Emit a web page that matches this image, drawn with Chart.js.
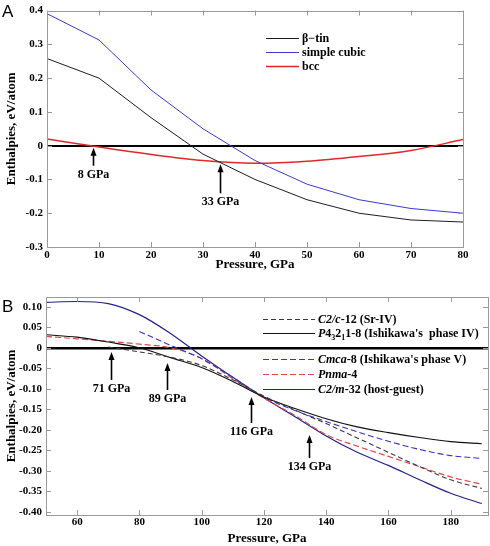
<!DOCTYPE html>
<html>
<head>
<meta charset="utf-8">
<script src="https://cdn.jsdelivr.net/npm/chart.js@4.4.0/dist/chart.umd.min.js"></script>
<style>
  body { margin: 0; background: #fff; width: 490px; height: 546px; position: relative; overflow: hidden; }
  canvas { position: absolute; left: 0; }
  #chartA { top: 0; }
  #chartB { top: 280px; }
  .panel { position: absolute; font: 17px "Liberation Sans", Arial, sans-serif; color: #000; }
  .row { position: absolute; display: flex; align-items: center; height: 16px; white-space: nowrap;
         font: bold 12px "Liberation Serif", "Times New Roman", serif; color: #000; }
  .row svg { display: block; }
  .row span { margin-left: 3px; }
  sub { font-size: 8px; vertical-align: -3px; line-height: 0; }
</style>
</head>
<body>
<canvas id="chartA" width="490" height="272"></canvas>
<canvas id="chartB" width="490" height="266"></canvas>
<div class="panel" style="left:2px;top:2px">A</div>
<div class="panel" style="left:2px;top:297px">B</div>
<script>
// panel A : enthalpies vs pressure (eV/atom, GPa)
const pressA = [0, 10, 20, 30, 40, 50, 60, 70, 80];
const betaTin = [0.258, 0.2, 0.083, -0.025, -0.1, -0.16, -0.2, -0.22, -0.226];
const simpleCubic = [0.391, 0.313, 0.165, 0.05, -0.044, -0.114, -0.16, -0.186, -0.2];
const bcc = [0.02, -0.004, -0.026, -0.044, -0.052, -0.046, -0.032, -0.014, 0.018];
const xTicksA = [0, 10, 20, 30, 40, 50, 60, 70, 80];
const yTicksA = [-0.3, -0.2, -0.1, 0, 0.1, 0.2, 0.3, 0.4];
const arrowPressA = [8.8, 33.3];
const arrowEnthA = [-0.006, -0.055];
const arrowLabelsA = ['8 GPa', '33 GPa'];

// panel B
const pressB = [50, 60, 70, 80, 90, 100, 110, 120, 130, 140, 150, 160, 170, 180, 190];
const c2c12 = [null, null, 0.002, -0.01, -0.023, -0.043, -0.078, -0.118, -0.152, -0.185, -0.22, -0.255, -0.29, -0.322, -0.343];
const p43212 = [0.032, 0.026, 0.014, 0.0, -0.024, -0.048, -0.082, -0.12, -0.148, -0.173, -0.193, -0.207, -0.219, -0.229, -0.234];
const cmca8 = [null, null, null, 0.04, 0.006, -0.027, -0.072, -0.12, -0.153, -0.18, -0.205, -0.228, -0.248, -0.263, -0.27];
const pnma4 = [0.028, 0.022, 0.016, 0.009, 0.0, -0.026, -0.075, -0.123, -0.165, -0.212, -0.24, -0.265, -0.29, -0.315, -0.333];
const c2m32 = [0.111, 0.113, 0.108, 0.081, 0.035, -0.02, -0.072, -0.122, -0.168, -0.215, -0.255, -0.287, -0.322, -0.355, -0.38];
const xTicksB = [60, 80, 100, 120, 140, 160, 180];
const yTicksB = [-0.4, -0.35, -0.3, -0.25, -0.2, -0.15, -0.1, -0.05, 0, 0.05, 0.1];
const arrowPressB = [71, 89, 116, 134.5];
const arrowEnthB = [-0.01, -0.037, -0.12, -0.213];
const arrowLabelsB = ['71 GPa', '89 GPa', '116 GPa', '134 GPa'];

const serif = '"Liberation Serif", "Times New Roman", serif';

function pts(xs, ys) {
  return xs.map((x, i) => ({ x: x, y: ys[i] })).filter(p => p.y !== null);
}

// box, inward tick marks and the arrows with their labels
const framePlugin = {
  id: 'frame',
  afterDatasetsDraw(chart, args, opts) {
    const { ctx, chartArea: a, scales } = chart;
    ctx.save();
    ctx.strokeStyle = '#9a9a9a';
    ctx.lineWidth = 1;
    ctx.strokeRect(Math.round(a.left) + 0.5, Math.round(a.top) + 0.5,
      Math.round(a.right - a.left), Math.round(a.bottom - a.top));
    ctx.beginPath();
    scales.x.ticks.forEach(t => {
      const x = Math.round(scales.x.getPixelForValue(t.value)) + 0.5;
      ctx.moveTo(x, a.bottom); ctx.lineTo(x, a.bottom - 5);
      ctx.moveTo(x, a.top); ctx.lineTo(x, a.top + 5);
    });
    scales.y.ticks.forEach(t => {
      const y = Math.round(scales.y.getPixelForValue(t.value)) + 0.5;
      ctx.moveTo(a.left, y); ctx.lineTo(a.left + 5, y);
      ctx.moveTo(a.right, y); ctx.lineTo(a.right - 5, y);
    });
    ctx.stroke();

    ctx.fillStyle = '#000';
    ctx.strokeStyle = '#000';
    ctx.lineWidth = 1.6;
    ctx.font = 'bold 12px ' + serif;
    ctx.textAlign = 'center';
    ctx.textBaseline = 'middle';
    (opts.arrows || []).forEach(ar => {
      const x = Math.round(scales.x.getPixelForValue(ar.p)) + 0.5;
      const y = scales.y.getPixelForValue(ar.e);
      ctx.beginPath();
      ctx.moveTo(x, y + 6); ctx.lineTo(x, y + ar.len);
      ctx.stroke();
      ctx.beginPath();
      ctx.moveTo(x, y); ctx.lineTo(x - 3, y + 8); ctx.lineTo(x + 3, y + 8);
      ctx.closePath();
      ctx.fill();
      ctx.fillText(ar.label, x, y + ar.len + 9);
    });
    ctx.restore();
  }
};

function buildChart(id, c) {
  return new Chart(document.getElementById(id), {
    type: 'line',
    data: { datasets: c.datasets },
    options: {
      responsive: false,
      animation: false,
      layout: { padding: c.pad },
      elements: { point: { radius: 0 } },
      plugins: {
        legend: { display: false },
        tooltip: { enabled: false },
        frame: { arrows: c.arrows }
      },
      scales: {
        x: {
          type: 'linear', min: c.xMin, max: c.xMax,
          afterBuildTicks: s => { s.ticks = c.xTicks.map(v => ({ value: v })); },
          afterFit: s => { s.height = c.xH; },
          grid: { display: false, drawTicks: false },
          border: { display: false },
          ticks: { color: '#000', padding: c.xPad, maxRotation: 0, font: { family: serif, size: 11, weight: 'bold' } },
          title: { display: true, text: 'Pressure, GPa', color: '#000', padding: { top: 0, bottom: 0 },
                   font: { family: serif, size: 13, weight: 'bold' } }
        },
        y: {
          min: c.yMin, max: c.yMax,
          afterBuildTicks: s => { s.ticks = c.yTicks.map(v => ({ value: v })); },
          afterFit: s => { s.width = c.yW; },
          grid: {
            drawTicks: false,
            color: ctx => (ctx.tick && Math.abs(ctx.tick.value) < 1e-9) ? '#000' : 'rgba(0,0,0,0)',
            lineWidth: ctx => (ctx.tick && Math.abs(ctx.tick.value) < 1e-9) ? c.zeroW : 1
          },
          border: { display: false },
          ticks: { color: '#000', padding: 4, font: { family: serif, size: 11, weight: 'bold' },
                   callback: v => Math.abs(v) < 1e-9 ? '0' : v.toFixed(c.dec) },
          title: { display: true, text: 'Enthalpies, eV/atom', color: '#000', padding: { top: 4, bottom: 0 },
                   font: { family: serif, size: 13, weight: 'bold' } }
        }
      }
    },
    plugins: [framePlugin]
  });
}

const stylesA = [
  { label: 'β−tin', color: '#1e1e1e', width: 1, dash: [] },
  { label: 'simple cubic', color: '#3a3ad0', width: 1, dash: [] },
  { label: 'bcc', color: '#e02828', width: 1.5, dash: [] }
];
const seriesA = [betaTin, simpleCubic, bcc];

buildChart('chartA', {
  datasets: seriesA.map((s, i) => ({
    label: stylesA[i].label, data: pts(pressA, s),
    borderColor: stylesA[i].color, borderWidth: stylesA[i].width,
    cubicInterpolationMode: i === 2 ? 'monotone' : 'default', tension: 0
  })),
  pad: { left: 0, top: 6, right: 27, bottom: 0 },
  xMin: 0, xMax: 80, yMin: -0.3, yMax: 0.4,
  xTicks: xTicksA, yTicks: yTicksA, xH: 25, yW: 47, xPad: 2, dec: 1, zeroW: 2,
  arrows: arrowPressA.map((p, i) => ({ p: p, e: arrowEnthA[i], label: arrowLabelsA[i], len: [18, 29][i] }))
});

const stylesB = [
  { label: 'C2/c-12 (Sr-IV)', html: '<i>C2/c</i>-12 (Sr-IV)', color: '#3a3a3a', width: 1.1, dash: [5, 3] },
  { label: 'P4₃2₁1-8 (Ishikawa\'s phase IV)', html: '<i>P</i>4<sub>3</sub>2<sub>1</sub>1-8 (Ishikawa\'s&nbsp; phase IV)', color: '#111', width: 1.1, dash: [] },
  { label: 'Cmca-8 (Ishikawa\'s phase V)', html: '<i>Cmca</i>-8 (Ishikawa\'s phase V)', color: '#3434c8', width: 1.1, dash: [6, 3] },
  { label: 'Pnma-4', html: '<i>Pnma</i>-4', color: '#e04848', width: 1.2, dash: [6, 3] },
  { label: 'C2/m-32 (host-guest)', html: '<i>C2/m</i>-32 (host-guest)', color: '#22228e', width: 1.2, dash: [] }
];
const seriesB = [c2c12, p43212, cmca8, pnma4, c2m32];

buildChart('chartB', {
  datasets: seriesB.map((s, i) => ({
    label: stylesB[i].label, data: pts(pressB, s),
    borderColor: stylesB[i].color, borderWidth: stylesB[i].width, borderDash: stylesB[i].dash,
    cubicInterpolationMode: 'monotone'
  })),
  pad: { left: 0, top: 17, right: 2, bottom: 0 },
  xMin: 50, xMax: 192, yMin: -0.408, yMax: 0.124,
  xTicks: xTicksB, yTicks: yTicksB, xH: 31, yW: 46, xPad: 1, dec: 2, zeroW: 2.5,
  arrows: arrowPressB.map((p, i) => ({ p: p, e: arrowEnthB[i], label: arrowLabelsB[i], len: [28, 27, 26, 23][i] }))
});

// legends (html so the italic / subscript parts stay real text)
function addLegend(styles, x, ys, lineLen, htmlKey) {
  styles.forEach((s, i) => {
    const row = document.createElement('div');
    row.className = 'row';
    row.style.left = x + 'px';
    row.style.top = (ys[i] - 8) + 'px';
    const dash = s.dash.length ? ' stroke-dasharray="' + s.dash.join(' ') + '"' : '';
    row.innerHTML = '<svg width="' + lineLen + '" height="16"><line x1="0" y1="8.5" x2="' + lineLen +
      '" y2="8.5" stroke="' + s.color + '" stroke-width="' + s.width + '"' + dash + '/></svg>' +
      '<span>' + (htmlKey ? s[htmlKey] : s.label) + '</span>';
    document.body.appendChild(row);
  });
}
addLegend(stylesA, 266, [38, 52, 66], 33, null);
addLegend(stylesB, 263, [319, 333, 359, 374, 389], 52, 'html');
</script>
</body>
</html>
